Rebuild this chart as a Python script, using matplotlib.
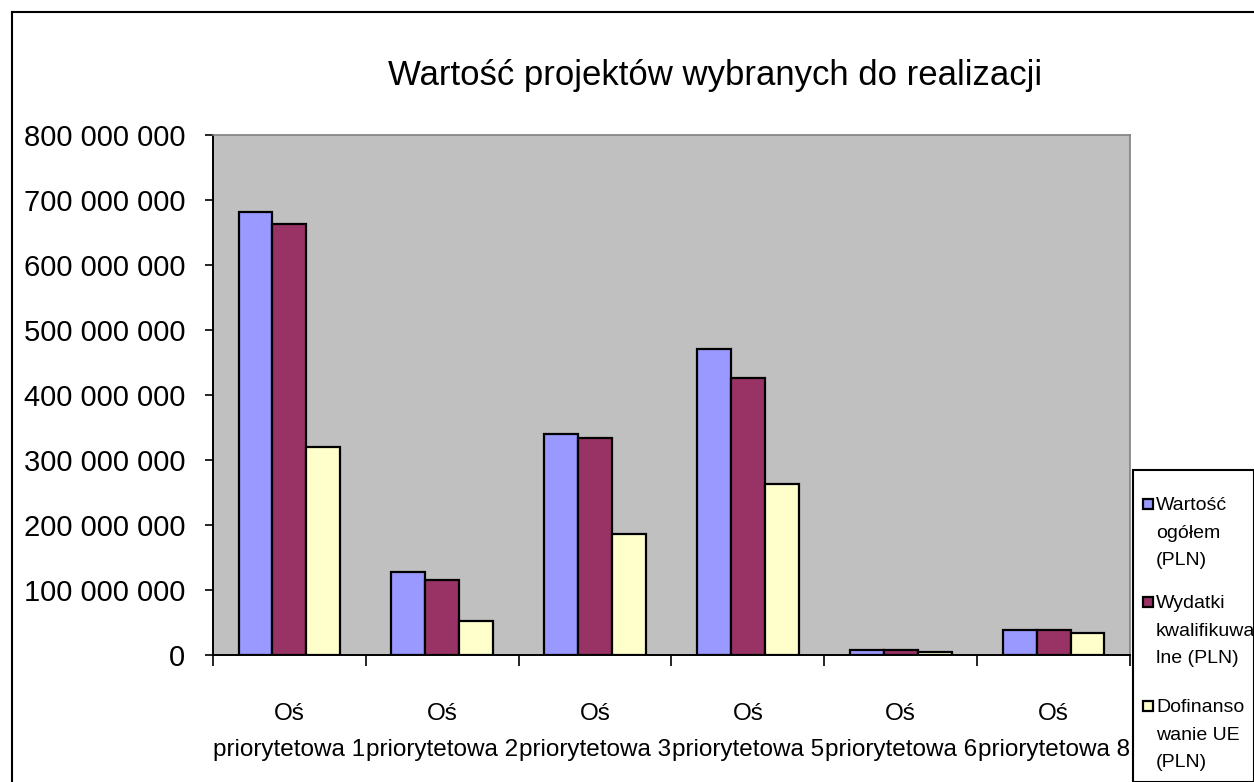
import numpy as np
import matplotlib.pyplot as plt
from matplotlib.patches import Rectangle
from matplotlib.ticker import FuncFormatter

plt.rcParams['font.family'] = ['Liberation Sans', 'DejaVu Sans']

# ----- Data -----
categories = ['Oś\npriorytetowa 1', 'Oś\npriorytetowa 2', 'Oś\npriorytetowa 3',
              'Oś\npriorytetowa 5', 'Oś\npriorytetowa 6', 'Oś\npriorytetowa 8']
series_names = ['Wartość\nogółem\n(PLN)', 'Wydatki\nkwalifikuwa\nlne (PLN)', 'Dofinanso\nwanie UE\n(PLN)']
wartosc_ogolem = [681e6, 127e6, 340e6, 471e6, 8e6, 38e6]
wydatki_kwalif = [663e6, 115e6, 334e6, 426e6, 8e6, 38e6]
dofinansowanie = [320e6, 53e6, 186e6, 263e6, 5e6, 34e6]
colors = ['#9999FF', '#993366', '#FFFFCC']

W, H = 1254, 782
fig = plt.figure(figsize=(W / 100, H / 100), dpi=100)
fig.patch.set_facecolor('white')

# outer chart border (cropped at right / bottom)
fig.add_artist(plt.Line2D([12 / W, 12 / W], [0, 1 - 12 / H], color='black', lw=1.5, transform=fig.transFigure))
fig.add_artist(plt.Line2D([12 / W, 1], [1 - 12 / H, 1 - 12 / H], color='black', lw=1.5, transform=fig.transFigure))

ax = fig.add_axes([213 / W, (H - 655) / H, 917 / W, 520 / H])
ax.set_facecolor('#C0C0C0')

x = np.arange(len(categories))
bw = 0.222
for i, vals in enumerate([wartosc_ogolem, wydatki_kwalif, dofinansowanie]):
    ax.bar(x + (i - 1) * bw, vals, width=bw, color=colors[i], edgecolor='black', linewidth=1.6)

ax.set_xlim(-0.5, len(categories) - 0.5)
ax.set_ylim(0, 800e6)
ax.set_yticks(np.arange(0, 800e6 + 1, 100e6))
ax.yaxis.set_major_formatter(FuncFormatter(lambda v, p: f"{int(v):,}".replace(',', ' ')))
ax.tick_params(axis='y', labelsize=21, length=6, width=1.2, pad=14)

ax.set_xticks(x)
ax.set_xticklabels(categories, fontsize=17.5, linespacing=1.85)
ax.tick_params(axis='x', length=0, pad=34.5)
ax.set_xticks(np.arange(-0.5, len(categories), 1), minor=True)
ax.tick_params(axis='x', which='minor', length=8, width=1.2, direction='out')

for s in ['top', 'right']:
    ax.spines[s].set_color('#808080')
    ax.spines[s].set_linewidth(1.2)
for s in ['left', 'bottom']:
    ax.spines[s].set_color('black')
    ax.spines[s].set_linewidth(1.4)

fig.text(715 / W, 1 - 75 / H, 'Wartość projektów wybranych do realizacji',
         ha='center', va='center', fontsize=25)

# ----- Legend (drawn by hand) -----
fig.add_artist(Rectangle((1133 / W, 0), 1 - 1133 / W, (H - 470) / H, transform=fig.transFigure,
                         facecolor='white', edgecolor='black', lw=1.5))
entry_baselines = [512, 610, 714]
for name, col, base in zip(series_names, colors, entry_baselines):
    fig.add_artist(Rectangle((1143 / W, 1 - (base - 3) / H), 10 / W, 10 / H, transform=fig.transFigure,
                             facecolor=col, edgecolor='black', lw=1.6))
    fig.text(1156 / W, 1 - (base - 15) / H, name, ha='left', va='top', fontsize=14, linespacing=1.82)

fig.savefig('out.png', dpi=100)
